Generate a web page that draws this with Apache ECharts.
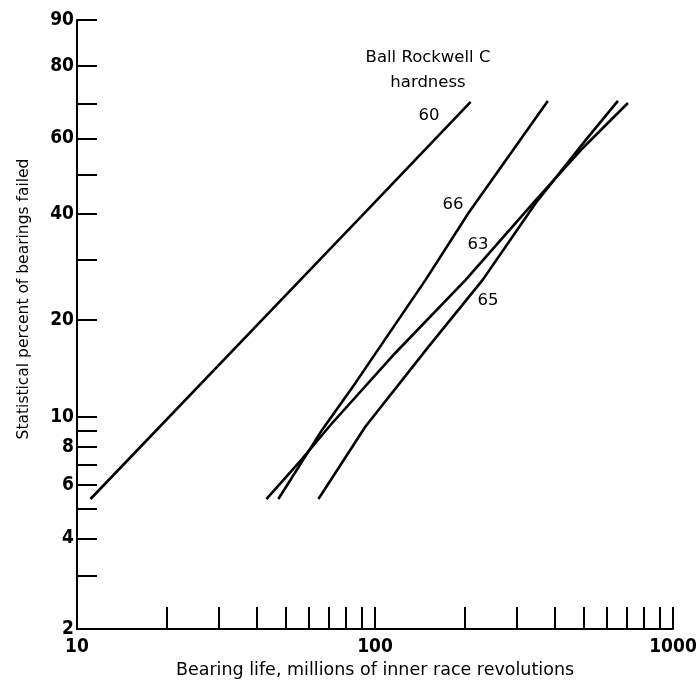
<!DOCTYPE html>
<html>
<head>
<meta charset="utf-8">
<script src="https://cdn.jsdelivr.net/npm/echarts@6/dist/echarts.min.js"></script>
<style>
html,body{margin:0;padding:0;background:#fff;}
#chart{width:696px;height:683px;}
</style>
</head>
<body>
<div id="chart"></div>
<script>
// ---- data (bearing life in millions of revolutions, statistical percent failed) ----
const lifeTicks = [20, 30, 40, 50, 60, 70, 80, 90, 100, 200, 300, 400, 500, 600, 700, 800, 900, 1000];
const lifeLabels = [10, 100, 1000];
const pctTicks = [2, 3, 4, 5, 6, 7, 8, 9, 10, 20, 30, 40, 50, 60, 70, 80, 90];
const pctLabels = [2, 4, 6, 8, 10, 20, 40, 60, 80, 90];

const life60 = [11.1, 56.2, 94.4, 209.4];
const pct60  = [5.4, 26.3, 40.9, 70.4];
const life66 = [47.4, 66.6, 86.0, 147.8, 206.2, 380];
const pct66  = [5.4, 9.1, 12.8, 26.3, 40.2, 70.7];
const life63 = [43.2, 56.2, 70.9, 117.2, 201.5, 346.3, 498.3, 706];
const pct63  = [5.4, 7.2, 9.4, 15.9, 26.3, 43.3, 57.3, 70.1];
const life65 = [64.6, 92.9, 151.3, 229.8, 346.3, 510, 653.4];
const pct65  = [5.4, 9.3, 16.6, 26.3, 42.6, 59.6, 70.7];

const seriesNames = ['60', '66', '63', '65'];

// Weibull probability scale transform
function W(p) { return Math.log(-Math.log(1 - p / 100)); }
function invW(v) { return (1 - Math.exp(-Math.exp(v))) * 100; }

function pairs(lifes, pcts) { return lifes.map((l, i) => [l, W(pcts[i])]); }

const FONT = '"DejaVu Sans", sans-serif';
const NUMFONT = '"Liberation Sans Narrow", "DejaVu Sans Condensed", sans-serif';

const chart = echarts.init(document.getElementById('chart'), null, {renderer: 'canvas'});

const lineSeries = [[life60, pct60], [life66, pct66], [life63, pct63], [life65, pct65]].map((d, i) => ({
  name: seriesNames[i],
  type: 'line',
  data: pairs(d[0], d[1]),
  showSymbol: false,
  smooth: false,
  lineStyle: {color: '#000', width: 2.6},
  silent: true
}));

function txt(s, x, y, size) {
  return {type: 'text', silent: true, x: x, y: y,
    style: {text: s, fill: '#000', font: size + 'px ' + FONT, align: 'center', verticalAlign: 'middle'}};
}

const option = {
  animation: false,
  backgroundColor: '#fff',
  grid: {left: 77, right: 23, top: 20, bottom: 54, containLabel: false, outerBoundsMode: 'none'},
  xAxis: {
    type: 'log',
    logBase: 10,
    min: 10,
    max: 1000,
    name: 'Bearing life, millions of inner race revolutions',
    nameLocation: 'middle',
    nameGap: 31,
    nameTextStyle: {fontFamily: FONT, fontSize: 17.5, color: '#000'},
    axisLine: {onZero: false, lineStyle: {color: '#000', width: 2}},
    axisTick: {show: true, inside: true, length: 22, lineStyle: {color: '#000', width: 2}, customValues: lifeTicks},
    minorTick: {show: false},
    axisLabel: {color: '#000', fontFamily: NUMFONT, fontWeight: 'bold', fontSize: 19, margin: 9,
      customValues: lifeLabels, formatter: v => String(Math.round(v))},
    splitLine: {show: false}
  },
  yAxis: {
    type: 'value',
    min: W(2),
    max: W(90),
    axisLine: {show: true, onZero: false, lineStyle: {color: '#000', width: 2}},
    axisTick: {show: true, inside: true, length: 20, lineStyle: {color: '#000', width: 2}, customValues: pctTicks.map(W)},
    axisLabel: {
      color: '#000', fontFamily: NUMFONT, fontWeight: 'bold', fontSize: 19, margin: 3,
      customValues: pctLabels.map(W),
      formatter: v => String(Math.round(invW(v)))
    },
    splitLine: {show: false}
  },
  graphic: [
    {type: 'text', silent: true, x: 24, y: 299, rotation: Math.PI / 2,
     style: {text: 'Statistical percent of bearings failed', fill: '#000', font: '15.5px ' + FONT, align: 'center', verticalAlign: 'middle'}},
    txt('Ball Rockwell C', 428, 58, 16.5),
    txt('hardness', 428, 83, 16.5),
    txt(seriesNames[0], 429, 116, 16.5),
    txt(seriesNames[1], 453, 205, 16.5),
    txt(seriesNames[2], 478, 245, 16.5),
    txt(seriesNames[3], 488, 301, 16.5)
  ],
  series: lineSeries
};

chart.setOption(option);
</script>
</body>
</html>
